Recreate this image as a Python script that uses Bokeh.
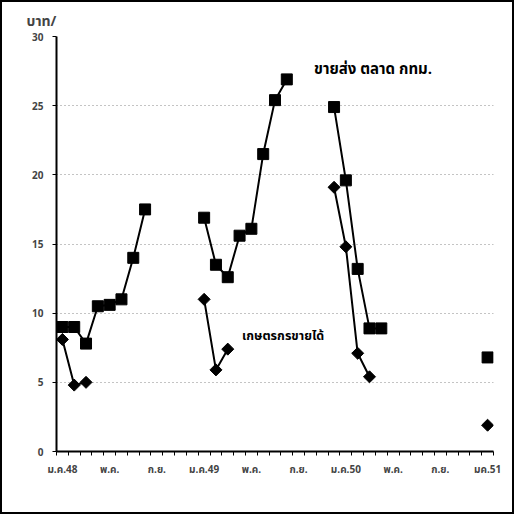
import numpy as np
from bokeh.plotting import figure
from bokeh.layouts import column
from bokeh.models import Range1d, FixedTicker, Label
from bokeh.embed import file_html
from bokeh.resources import INLINE

# ---- data ----
thai_months = ["ม.ค.", "ก.พ.", "มี.ค.", "เม.ย.", "พ.ค.", "มิ.ย.",
               "ก.ค.", "ส.ค.", "ก.ย.", "ต.ค.", "พ.ย.", "ธ.ค."]
years = ["48", "49", "50", "51"]
months = [m + y for y in years for m in thai_months][:37]   # ม.ค.48 .. ม.ค.51

tick_positions = [0, 4, 8, 12, 16, 20, 24, 28, 32, 36]
tick_labels = ["ม.ค.48", "พ.ค.", "ก.ย.", "ม.ค.49", "พ.ค.", "ก.ย.",
               "ม.ค.50", "พ.ค.", "ก.ย.", "มค.51"]

# ขายส่ง ตลาด กทม. (wholesale, Bangkok market)
wholesale = [9.0, 9.0, 7.8, 10.5, 10.6, 11.0, 14.0, 17.5,
             None, None, None, None,
             16.9, 13.5, 12.6, 15.6, 16.1, 21.5, 25.4, 26.9,
             None, None, None,
             24.9, 19.6, 13.2, 8.9, 8.9,
             None, None, None, None, None, None, None, None,
             6.8]

# เกษตรกรขายได้ (farm-gate price)
farmer = [8.1, 4.8, 5.0,
          None, None, None, None, None, None, None, None, None,
          11.0, 5.9, 7.4,
          None, None, None, None, None, None, None, None,
          19.1, 14.8, 7.1, 5.4,
          None, None, None, None, None, None, None, None, None,
          1.9]

y_ticks = [0, 5, 10, 15, 20, 25, 30]

x = np.arange(len(months))
w = np.array(wholesale, dtype=float)
f = np.array(farmer, dtype=float)

FONT = "Noto Sans Thai, Noto Sans, DejaVu Sans"

p = figure(width=510, height=510, output_backend="svg", toolbar_location=None,
           x_range=Range1d(-0.5, len(months) - 0.5), y_range=Range1d(0, 30),
           min_border_left=54, min_border_right=19, min_border_top=34,
           min_border_bottom=61)
p.outline_line_color = None
p.background_fill_color = "white"
p.border_fill_color = "white"

# title used as the unit label
p.title.text = "บาท/"
p.title.align = "left"
p.title.offset = -30
p.title.text_font = FONT
p.title.text_font_size = "14px"
p.title.text_font_style = "bold"

# axes
p.yaxis.ticker = y_ticks
p.yaxis.axis_line_width = 2
p.yaxis.major_tick_out = 4
p.yaxis.major_tick_in = 0
p.yaxis.minor_tick_out = 0
p.yaxis.major_label_text_font = FONT
p.yaxis.major_label_text_font_size = "10px"
p.yaxis.major_label_text_font_style = "bold"
p.yaxis.major_label_standoff = 9

boundaries = [i - 0.5 for i in range(len(months) + 1)]
p.xaxis.ticker = FixedTicker(ticks=tick_positions, minor_ticks=boundaries)
p.xaxis.major_label_overrides = {t: l for t, l in zip(tick_positions, tick_labels)}
p.xaxis.axis_line_width = 2
p.xaxis.major_tick_out = 0
p.xaxis.major_tick_in = 0
p.xaxis.minor_tick_out = 4
p.xaxis.minor_tick_in = 0
p.xaxis.major_label_text_font = FONT
p.xaxis.major_label_text_font_size = "10px"
p.xaxis.major_label_text_font_style = "bold"
p.xaxis.major_label_standoff = 6

p.xgrid.grid_line_color = None
p.ygrid.grid_line_color = "#888888"
p.ygrid.grid_line_dash = "1 3"
p.ygrid.grid_line_width = 1

# series
p.line(x, w, line_color="black", line_width=2)
p.scatter(x, w, marker="square", size=11, fill_color="black", line_color="black")
p.line(x, f, line_color="black", line_width=2)
p.scatter(x, f, marker="square", angle=np.pi / 4, size=8.5,
          fill_color="black", line_color="black")

# in-chart labels
p.add_layout(Label(x=26.3, y=27.6, text="ขายส่ง ตลาด กทม.", text_align="center",
                   text_baseline="middle", text_font=FONT, text_font_size="15px",
                   text_font_style="bold", text_color="black"))
p.add_layout(Label(x=15.2, y=8.3, text="เกษตรกรขายได้", text_align="left",
                   text_baseline="middle", text_font=FONT, text_font_size="12.5px",
                   text_font_style="bold", text_color="black"))

layout = column(p, styles={"border": "2px solid black"})

open("out.html", "w").write(file_html(layout, INLINE))
